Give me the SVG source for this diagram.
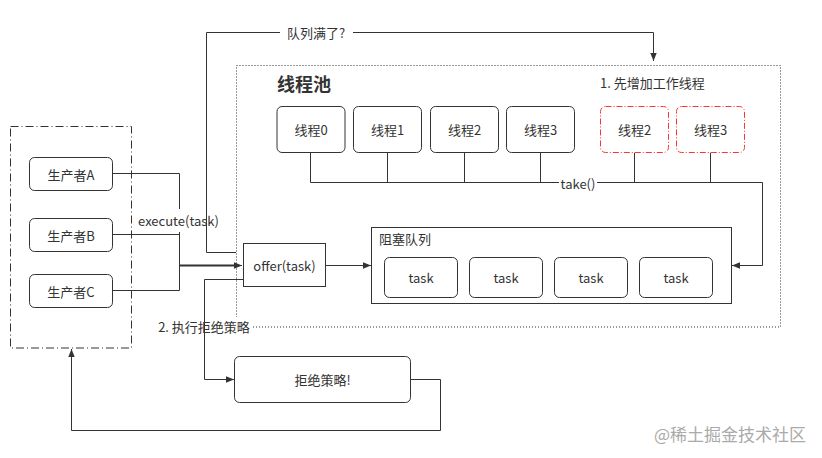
<svg xmlns="http://www.w3.org/2000/svg" width="822" height="458" viewBox="0 0 822 458">
<defs>
<style>
text{font-family:"Noto Sans CJK SC","Microsoft YaHei",sans-serif;fill:#333;font-size:13px}
.c{text-anchor:middle;dominant-baseline:central}
.l{dominant-baseline:central}
.box{fill:#fff;stroke:#333;stroke-width:1}
.red{fill:#fff;stroke:#FF3333;stroke-width:1;stroke-dasharray:6 2 1 2}
.ln{fill:none;stroke:#333;stroke-width:1}
.bg{fill:#fff}
</style>
<marker id="arr" viewBox="0 0 10 10" refX="10" refY="5" markerWidth="8" markerHeight="8" markerUnits="userSpaceOnUse" orient="auto">
<path d="M0,1 L10,5 L0,9 Z" fill="#333"/>
</marker>
</defs>
<rect width="822" height="458" fill="#fff"/>

<g id="pool">
<rect x="236.5" y="65.5" width="544" height="261.5" fill="none" stroke="#333" stroke-dasharray="1 2"/>
<text x="277" y="83" class="l" style="font-size:18px;font-weight:bold">线程池</text>
<text x="600" y="82" class="l">1. 先增加工作线程</text>
</g>
<g id="producers">
<rect x="10.5" y="126.5" width="121" height="221.5" fill="none" stroke="#333" stroke-dasharray="8 3 1 3"/>
</g>

<g id="connectors">
<rect class="bg" x="157" y="317" width="95" height="18"/>
<path class="ln" d="M112.5,173.5 H179.5 V265.5 H242"/>
<path class="ln" d="M112.5,234.5 H179.5 V265.5 H242"/>
<path class="ln" d="M112.5,290.5 H179.5 V265.5 H242" marker-end="url(#arr)"/>
<path class="ln" d="M179.5,265.5 H236" style="stroke-width:2"/>
<rect class="bg" x="137" y="209" width="84" height="23"/>
<text x="178.5" y="220.5" class="c">execute(task)</text>
<path class="ln" d="M236,252.5 H206.5 V32.5 H653.5 V61" marker-end="url(#arr)"/>
<rect class="bg" x="280" y="24" width="73" height="18"/>
<text x="316" y="32.5" class="c">队列满了?</text>
<path class="ln" d="M325.5,265.5 H371" marker-end="url(#arr)"/>
<path class="ln" d="M310.5,152.5 V182.5 M387.5,152.5 V182.5 M464.5,152.5 V182.5 M540.5,152.5 V182.5 M634.5,152.5 V182.5 M710.5,152.5 V182.5"/>
<path class="ln" d="M310.5,182.5 H762.5 V265.5 H732" marker-end="url(#arr)"/>
<rect class="bg" x="559" y="175" width="38" height="16"/>
<text x="578" y="183" class="c">take()</text>
<text x="204" y="326" class="c">2. 执行拒绝策略</text>
<path class="ln" d="M243,279.5 H204.5 V379.5 H234" marker-end="url(#arr)"/>
<path class="ln" d="M410.5,379.5 H440.5 V430.5 H71.5 V349" marker-end="url(#arr)"/>
</g>

<g id="producerA"><rect class="box" x="29.5" y="157.5" width="83" height="33" rx="5"/><text x="71" y="174" class="c">生产者A</text></g>
<g id="producerB"><rect class="box" x="29.5" y="218.5" width="83" height="33" rx="5"/><text x="71" y="235" class="c">生产者B</text></g>
<g id="producerC"><rect class="box" x="29.5" y="274.5" width="83" height="33" rx="5"/><text x="71" y="291" class="c">生产者C</text></g>

<g id="thread0"><rect class="box" x="277" y="106.5" width="68" height="46" rx="5"/><text x="311" y="129.5" class="c">线程0</text></g>
<g id="thread1"><rect class="box" x="353.5" y="106.5" width="68" height="46" rx="5"/><text x="387.5" y="129.5" class="c">线程1</text></g>
<g id="thread2"><rect class="box" x="430.5" y="106.5" width="68" height="46" rx="5"/><text x="464.5" y="129.5" class="c">线程2</text></g>
<g id="thread3"><rect class="box" x="506.5" y="106.5" width="68" height="46" rx="5"/><text x="540.5" y="129.5" class="c">线程3</text></g>
<g id="newThread2"><rect class="red" x="600.5" y="106.5" width="68" height="46" rx="5"/><text x="634.5" y="129.5" class="c">线程2</text></g>
<g id="newThread3"><rect class="red" x="676.5" y="106.5" width="68" height="46" rx="5"/><text x="710.5" y="129.5" class="c">线程3</text></g>

<g id="offer"><rect class="box" x="243.5" y="243.5" width="82" height="43"/><text x="284.5" y="265" class="c">offer(task)</text></g>

<g id="queue">
<rect class="box" x="371.5" y="227.5" width="360" height="76"/>
<text x="379" y="238" class="l">阻塞队列</text>
</g>
<g id="task1"><rect class="box" x="384.5" y="257.5" width="73" height="40" rx="5"/><text x="421" y="277.5" class="c">task</text></g>
<g id="task2"><rect class="box" x="469.5" y="257.5" width="73" height="40" rx="5"/><text x="506" y="277.5" class="c">task</text></g>
<g id="task3"><rect class="box" x="554.5" y="257.5" width="73" height="40" rx="5"/><text x="591" y="277.5" class="c">task</text></g>
<g id="task4"><rect class="box" x="639.5" y="257.5" width="73" height="40" rx="5"/><text x="676" y="277.5" class="c">task</text></g>

<g id="reject"><rect class="box" x="234.5" y="356.5" width="176" height="46" rx="5"/><text x="322.5" y="379.5" class="c">拒绝策略!</text></g>

<text x="730" y="433" class="c" style="font-size:17px;fill:#aaa">@稀土掘金技术社区</text>
</svg>
